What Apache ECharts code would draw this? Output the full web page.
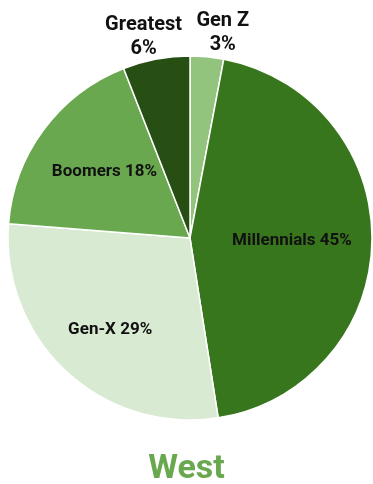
<!DOCTYPE html>
<html><head><meta charset="utf-8">
<script src="https://cdn.jsdelivr.net/npm/echarts@6/dist/echarts.min.js"></script>
<style>html,body{margin:0;padding:0;background:#fff}#c{width:373px;height:484px}</style>
</head><body><div id="c"></div>
<script>
const categories = ['Gen Z', 'Millennials', 'Gen-X', 'Boomers', 'Greatest'];
const values = [3, 45, 29, 18, 6];
const colors = ['#93c47d', '#38761d', '#d9ead3', '#6aa84f', '#274e13'];
const labelOffsets = [[24, -111], [8, 1], [-16, 23], [-10, -10], [-29, -109]];
const outerLabel = [true, false, false, false, true];

const chart = echarts.init(document.getElementById('c'), null, {renderer: 'canvas'});
chart.setOption({
  animation: false,
  title: {
    text: 'West', left: 'center', top: 447,
    textStyle: {fontFamily: 'Roboto', fontWeight: 'bold', fontSize: 34, color: '#6aa84f', lineHeight: 34}
  },
  series: [{
    type: 'pie',
    center: [190, 238],
    radius: [0, 182],
    startAngle: 90,
    clockwise: true,
    avoidLabelOverlap: false,
    data: categories.map((n, i) => ({
      name: n, value: values[i],
      itemStyle: {color: colors[i]},
      label: outerLabel[i] ? {formatter: '{b}\n{c}%', fontSize: 20, lineHeight: 24} : {}
    })),
    itemStyle: {borderColor: '#fff', borderWidth: 1.5},
    label: {show: true, position: 'inside', formatter: '{b} {c}%', fontFamily: 'Roboto', fontWeight: 'bold', fontSize: 17, color: '#111'},
    labelLine: {show: false},
    labelLayout: p => ({dx: labelOffsets[p.dataIndex][0], dy: labelOffsets[p.dataIndex][1]}),
    emphasis: {disabled: true}
  }]
});
</script></body></html>
